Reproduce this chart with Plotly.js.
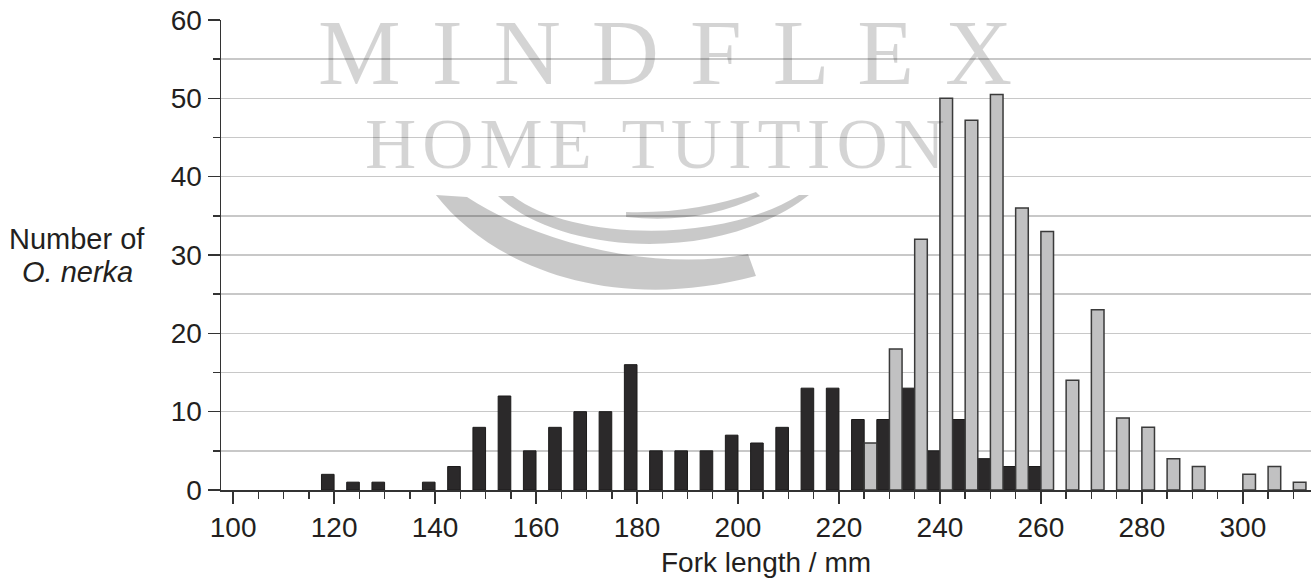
<!DOCTYPE html>
<html>
<head>
<meta charset="utf-8">
<script src="https://cdn.plot.ly/plotly-3.0.1.min.js"></script>
<style>html,body{margin:0;padding:0;background:#fff;}#chart{width:1313px;height:578px;}</style>
</head>
<body>
<div id="chart"></div>
<script>
// Data (5 mm bins)
const darkLengths = [120,125,130,140,145,150,155,160,165,170,175,180,185,190,195,200,205,210,215,220,225,230,235,240,245,250,255,260];
const darkCounts  = [2,1,1,1,3,8,12,5,8,10,10,16,5,5,5,7,6,8,13,13,9,9,13,5,9,4,3,3];
const greyLengths = [225,230,235,240,245,250,255,260,265,270,275,280,285,290,300,305,310];
const greyCounts  = [6,18,32,50,47.2,50.5,36,33,14,23,9.2,8,4,3,2,3,1];
const xTickVals = [100,120,140,160,180,200,220,240,260,280,300];
const yTickVals = [0,10,20,30,40,50,60];
const xTitle = 'Fork length / mm';
const yTitleLine1 = 'Number of';
const yTitleLine2 = '<i>O. nerka</i>';

const W = 1313, H = 578;
const M = {l:221, r:2, t:20, b:88};
const PW = W - M.l - M.r, PH = H - M.t - M.b;
const px = x => ((x - M.l) / PW).toFixed(4);
const py = y => ((H - M.b - y) / PH).toFixed(4);
function path(cmds){ // build a paper-space SVG path from pixel pairs
  return cmds.map(c => typeof c === 'string' ? c : px(c[0]) + ',' + py(c[1])).join(' ');
}

const textColor = '#231f20';
const font = 'Liberation Sans, Arial, Helvetica, sans-serif';
const serif = 'Liberation Serif, Times New Roman, serif';
const wmColor = 'rgba(0,0,0,0.17)';
const wmFill = 'rgba(0,0,0,0.21)';

const traces = [
  {type:'bar', x:darkLengths, y:darkCounts, name:'dark',
   marker:{color:'#2b292a', line:{color:'#1c1b1b', width:1}}, hoverinfo:'x+y'},
  {type:'bar', x:greyLengths, y:greyCounts, name:'grey',
   marker:{color:'#c1c1c2', line:{color:'#3a3a3a', width:1.5}}, hoverinfo:'x+y'}
];

const hs = '\u200A';
const wide = ' \u200A';
const layout = {
  width:W, height:H,
  margin:M,
  paper_bgcolor:'#fff', plot_bgcolor:'#fff',
  showlegend:false,
  barmode:'group', bargap:0, bargroupgap:0,
  font:{family:font, color:textColor, size:28},
  xaxis:{
    range:[97.6, 313.5], tickvals:xTickVals, ticktext:xTickVals.map(String),
    ticks:'outside', ticklen:12, tickwidth:1.5, tickcolor:'#333',
    minor:{dtick:5, tick0:100, ticks:'outside', ticklen:7, tickwidth:1.5, tickcolor:'#333', showgrid:false},
    showline:true, linecolor:'#333', linewidth:1.5,
    showgrid:false, zeroline:false, fixedrange:true,
    tickfont:{family:font, size:28, color:textColor}
  },
  yaxis:{
    range:[0,60], tickvals:yTickVals, ticktext:yTickVals.map(String),
    ticks:'outside', ticklen:12, tickwidth:1.5, tickcolor:'#333',
    minor:{dtick:5, tick0:0, ticks:'outside', ticklen:7, tickwidth:1.5, tickcolor:'#333',
           showgrid:true, gridcolor:'#c8c8c8', gridwidth:1.5},
    showline:true, linecolor:'#333', linewidth:1.5,
    showgrid:true, gridcolor:'#c8c8c8', gridwidth:1.5,
    zeroline:false, fixedrange:true,
    tickfont:{family:font, size:28, color:textColor}
  },
  annotations:[
    {xref:'paper', yref:'paper', x:0.5, y:py(562), xanchor:'center', yanchor:'middle',
     text:xTitle, showarrow:false, font:{family:font, size:28, color:textColor}},
    {xref:'paper', yref:'paper', x:px(77.5), y:py(239), xanchor:'center', yanchor:'middle',
     text:yTitleLine1, showarrow:false, font:{family:font, size:29, color:textColor}},
    {xref:'paper', yref:'paper', x:px(77.5), y:py(272.5), xanchor:'center', yanchor:'middle',
     text:yTitleLine2, showarrow:false, font:{family:font, size:29, color:textColor}},
    // watermark
    {xref:'paper', yref:'paper', x:px(665), y:py(53), xanchor:'center', yanchor:'middle',
     text:['M','I','N','D','F','L','E','X'].join(wide), showarrow:false,
     font:{family:serif, size:93, color:wmColor}},
    {xref:'paper', yref:'paper', x:px(655), y:py(143.5), xanchor:'center', yanchor:'middle',
     text:['H','O','M','E',' ','T','U','I','T','I','O','N'].join(hs), showarrow:false,
     font:{family:serif, size:71, color:wmColor}}
  ],
  shapes:[
    {type:'path', xref:'paper', yref:'paper', layer:'above', line:{width:0}, fillcolor:wmFill,
     path:path(['M',[436,195],'C',[490,265],[610,315],[756,276],'L',[748,254],'C',[660,272],[540,245],[467,197],'Z'])},
    {type:'path', xref:'paper', yref:'paper', layer:'above', line:{width:0}, fillcolor:wmFill,
     path:path(['M',[498,196],'C',[560,255],[720,265],[809,195],'L',[799,195],'C',[720,245],[570,240],[513,196],'Z'])},
    {type:'path', xref:'paper', yref:'paper', layer:'above', line:{width:0}, fillcolor:wmFill,
     path:path(['M',[626,217],'Q',[700,225],[760,196],'L',[756,192],'Q',[695,214],[626,212],'Z'])}
  ]
};

Plotly.newPlot('chart', traces, layout, {displayModeBar:false, staticPlot:true});
</script>
</body>
</html>
